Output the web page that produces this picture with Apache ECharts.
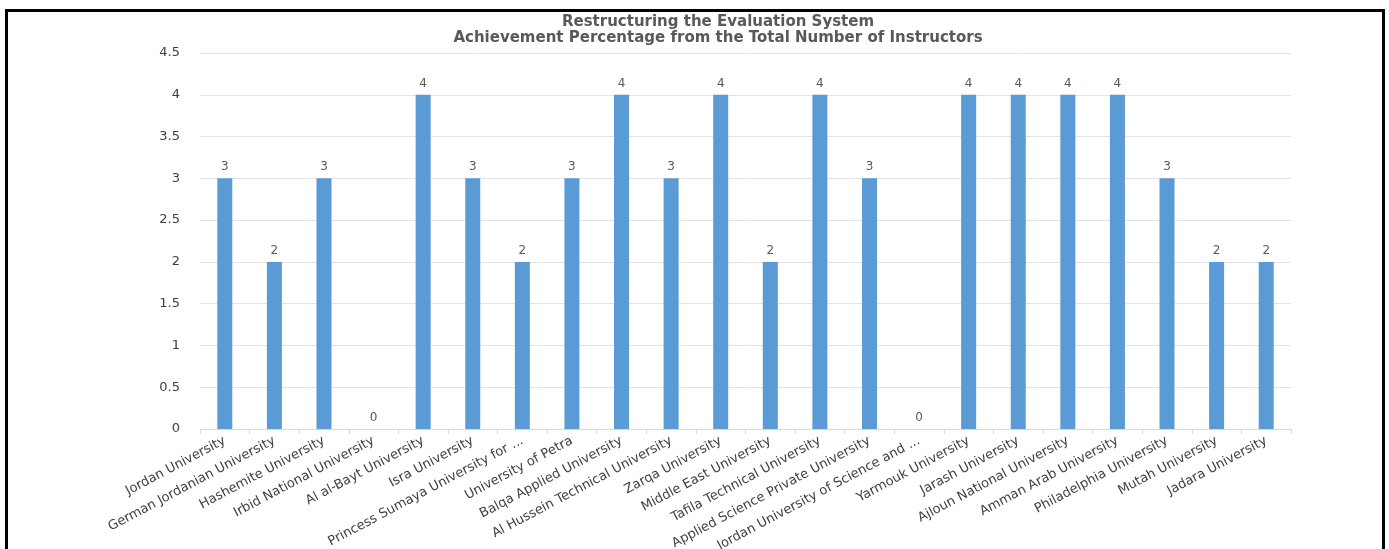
<!DOCTYPE html>
<html>
<head>
<meta charset="utf-8">
<script src="https://cdn.jsdelivr.net/npm/echarts@6/dist/echarts.min.js"></script>
<style>
  html, body { margin: 0; padding: 0; background: #fff; }
  #frame {
    position: absolute; left: 5px; top: 9px; width: 1374px; height: 560px;
    border: 3px solid #000; border-bottom: none;
  }
  #chart { position: absolute; left: 0; top: 0; width: 1389px; height: 549px; }
</style>
</head>
<body>
<div id="frame"></div>
<div id="chart"></div>
<script>
const universities = [
  "Jordan University", "German Jordanian University", "Hashemite University",
  "Irbid National University", "Al al-Bayt University", "Isra University",
  "Princess Sumaya University for ...", "University of Petra", "Balqa Applied University",
  "Al Hussein Technical University", "Zarqa University", "Middle East University",
  "Tafila Technical University", "Applied Science Private University",
  "Jordan University of Science and ...", "Yarmouk University", "Jarash University",
  "Ajloun National University", "Amman Arab University", "Philadelphia University",
  "Mutah University", "Jadara University"
];
const achievement = [3, 2, 3, 0, 4, 3, 2, 3, 4, 3, 4, 2, 4, 3, 0, 4, 4, 4, 4, 3, 2, 2];
const titleLines = [
  "Restructuring the Evaluation System",
  "Achievement Percentage from the Total Number of Instructors"
];

let chart = echarts.init(document.getElementById("chart"));

var option = {
  animation: false,
  textStyle: { fontFamily: "DejaVu Sans" },
  title: {
    text: titleLines.join("\n"),
    left: 713,
    top: 9,
    textAlign: "center",
    textStyle: { fontSize: 15, fontWeight: "bold", color: "#595959", lineHeight: 16, fontFamily: "DejaVu Sans" },
  },
  grid: { left: 200, right: 98, top: 53, bottom: 120, containLabel: false, outerBoundsMode: "none" },
  xAxis: {
    type: "category",
    data: universities,
    axisLine: { lineStyle: { color: "#d9d9d9" } },
    axisTick: { show: true, alignWithLabel: false, length: 5, lineStyle: { color: "#d9d9d9" } },
    axisLabel: { interval: 0, rotate: 28, color: "#404040", fontSize: 13, margin: 11 },
  },
  yAxis: {
    type: "value",
    min: 0,
    max: 4.5,
    interval: 0.5,
    axisLine: { show: false },
    axisTick: { show: false },
    axisLabel: { color: "#404040", fontSize: 13, margin: 20 },
    splitLine: { lineStyle: { color: "#e3e3e3" } },
  },
  series: [
    {
      type: "bar",
      data: achievement,
      barWidth: 15,
      itemStyle: { color: "#5b9bd5" },
      label: { show: true, position: "top", color: "#595959", fontSize: 12, distance: 5 },
    },
  ],
};

chart.setOption(option);
</script>
</body>
</html>
